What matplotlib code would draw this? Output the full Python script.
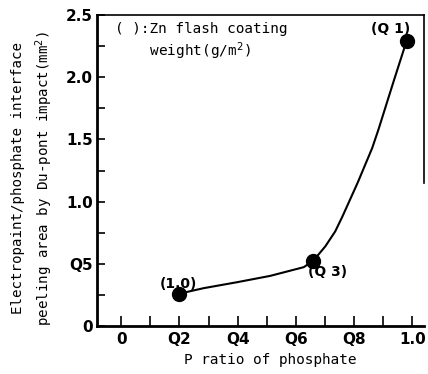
import matplotlib
matplotlib.use("Agg")
import matplotlib.pyplot as plt
from matplotlib.ticker import MultipleLocator, FixedLocator

# data
pt_x = [0.20, 0.66, 0.98]
pt_y = [0.26, 0.525, 2.29]
pt_labels = ["(1.0)", "(Q 3)", "(Q 1)"]
curve_x = [0.20, 0.283, 0.398, 0.512, 0.627, 0.66, 0.701, 0.735, 0.760, 0.812, 0.862, 0.883, 0.938, 0.98]
curve_y = [0.26, 0.304, 0.352, 0.403, 0.473, 0.525, 0.640, 0.760, 0.881, 1.151, 1.430, 1.575, 1.984, 2.29]
xtick_vals = [0, 0.2, 0.4, 0.6, 0.8, 1.0]
xtick_labels = ["0", "Q2", "Q4", "Q6", "Q8", "1.0"]
ytick_vals = [0, 0.5, 1.0, 1.5, 2.0, 2.5]
ytick_labels = ["0", "Q5", "1.0", "1.5", "2.0", "2.5"]

fig = plt.figure(figsize=(4.28, 3.74), dpi=100)
ax = fig.add_axes([97/428, 1-326/374, (424-97)/428, (326-15)/374])

ax.plot(curve_x, curve_y, color="black", lw=1.5, zorder=2, solid_joinstyle="round")
ax.plot(pt_x, pt_y, "o", color="black", ms=10, zorder=3)

offsets = [(-0.004, 0.075), (0.05, -0.09), (-0.056, 0.095)]
for x, y, t, (dx, dy) in zip(pt_x, pt_y, pt_labels, offsets):
    ax.text(x + dx, y + dy, t, ha="center", va="center", fontsize=10,
            fontweight="bold", family="DejaVu Sans")

ax.set_xlim(-0.083, 1.04)
ax.set_ylim(0, 2.5)

ax.xaxis.set_major_locator(FixedLocator(xtick_vals))
ax.set_xticklabels(xtick_labels, fontsize=11, fontweight="bold")
ax.xaxis.set_minor_locator(MultipleLocator(0.1))
ax.yaxis.set_major_locator(FixedLocator(ytick_vals))
ax.set_yticklabels(ytick_labels, fontsize=11, fontweight="bold")
ax.yaxis.set_minor_locator(MultipleLocator(0.25))

ax.tick_params(axis="both", which="both", direction="in", width=1.2)
ax.tick_params(axis="x", which="both", length=7, pad=4, top=False)
ax.tick_params(axis="y", which="both", length=6, pad=3, right=False)

ax.spines["left"].set_linewidth(2)
ax.spines["bottom"].set_linewidth(2)
ax.spines["top"].set_linewidth(1.2)
ax.spines["right"].set_linewidth(1.2)
ax.spines["right"].set_bounds(1.15, 2.5)

ax.set_xlabel("P ratio of phosphate", family="DejaVu Sans Mono", fontsize=10.4)
ax.xaxis.set_label_coords((270-97)/327, -(353-326)/311)
ax.set_ylabel("Electropaint/phosphate interface\npeeling area by Du-pont impact(mm$^2$)",
              family="DejaVu Sans Mono", fontsize=10.2, linespacing=1.55)
ax.yaxis.set_label_coords(-(97-55)/327, (326-178)/311)

ax.text((115-97)/327, 1-(22-15)/311, "( ):Zn flash coating\n    weight(g/m$^2$)", transform=ax.transAxes,
        ha="left", va="top", family="DejaVu Sans Mono", fontsize=10.4, linespacing=1.3)

fig.savefig("out.png", dpi=100)
